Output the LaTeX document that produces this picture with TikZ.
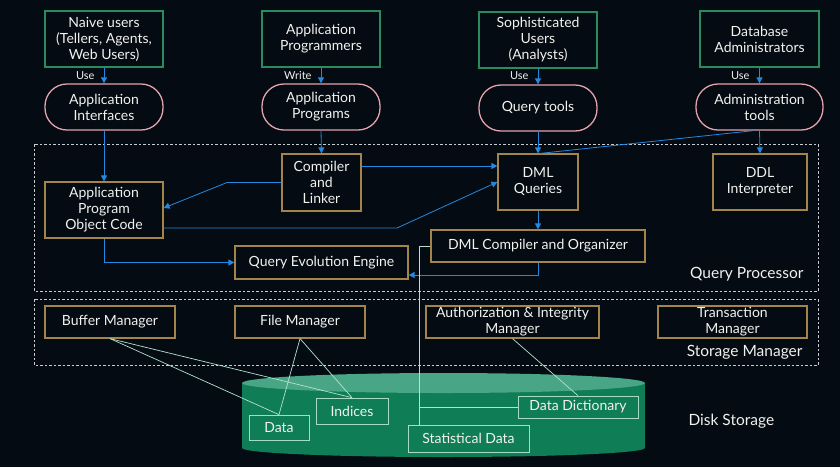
\documentclass[tikz,border=0pt]{standalone}
\usepackage{fontspec}
\setmainfont{Lato}
\usetikzlibrary{arrows.meta}
\definecolor{bg}{HTML}{040B12}
\definecolor{txt}{HTML}{F2F2EE}
\definecolor{gbord}{HTML}{2A8C5E}
\definecolor{pbord}{HTML}{E3A2AC}
\definecolor{obord}{HTML}{A3844A}
\definecolor{blu}{HTML}{2389E0}
\definecolor{lite}{HTML}{B5E2CF}
\definecolor{dash}{HTML}{C8CCD0}
\definecolor{cylbody}{HTML}{0F7D56}
\definecolor{cyltop}{HTML}{48A686}
\definecolor{dbord}{HTML}{A6DCC4}
\begin{document}
\begin{tikzpicture}[x=1pt,y=-1pt,
  every node/.style={text=txt, font=\fontsize{14}{16}\selectfont},
  sz/.style 2 args={minimum width=#1pt, minimum height=#2pt},
  gbox/.style={draw=gbord, line width=1.1pt, fill=bg, align=center, inner sep=0pt},
  pill/.style={draw=pbord, line width=1.3pt, fill=bg, align=center, inner sep=0pt, rounded corners=22pt},
  obox/.style={draw=obord, line width=1.2pt, fill=bg, align=center, inner sep=0pt},
  dbox/.style={draw=dbord, line width=0.7pt, align=center, inner sep=0pt},
  arr/.style={draw=blu, line width=0.8pt, -{Triangle[width=6pt,length=6pt]}},
  bline/.style={draw=blu, line width=0.8pt},
  lt/.style={draw=lite, line width=0.7pt},
  region/.style={draw=dash, line width=0.7pt, dash pattern=on 2.5pt off 2pt},
  small/.style={font=\fontsize{11}{12}\selectfont},
  title/.style={font=\fontsize{15.5}{17}\selectfont}]
\fill[bg] (0,0) rectangle (840,467);
\useasboundingbox (0,0) rectangle (840,467);

% regions
\draw[region] (34,144) rectangle (818,291);
\draw[region] (34,299) rectangle (818,365);
\node[title, anchor=east] (qplabel) at (807,274) {Query Processor};
\node[title, anchor=east] (smlabel) at (806,352) {Storage Manager};
\node[title, anchor=west] (dslabel) at (685,421) {Disk Storage};

% cylinder
\fill[cylbody] (242,383) rectangle (645,448);
\fill[cylbody] (443.5,448) ellipse [x radius=201.5, y radius=9];
\fill[cyltop] (443.5,383) ellipse [x radius=201.5, y radius=10];

% users
\node[gbox, sz={118}{56}] (naive) at (104,39) {Naive users\\(Tellers, Agents,\\Web Users)};
\node[gbox, sz={118}{56}] (aprog) at (321,39) {Application\\Programmers};
\node[gbox, sz={118}{56}] (soph) at (538,40) {Sophisticated\\Users\\(Analysts)};
\node[gbox, sz={119}{56}] (dba) at (759.5,39) {Database\\Administrators};

% pills
\node[pill, sz={118}{46}] (appint) at (104,107) {Application\\Interfaces};
\node[pill, sz={118}{46}] (apps) at (321,107) {Application\\Programs};
\node[pill, sz={118}{46}] (qtools) at (538,108) {Query tools};
\node[pill, sz={127}{46}] (admin) at (759.5,107) {Administration\\tools};

% use labels
\node[small, anchor=east] (u1) at (98,76) {Use};
\node[small, anchor=east] (u2) at (315,76) {Write};
\node[small, anchor=east] (u3) at (532,76) {Use};
\node[small, anchor=east] (u4) at (753,76) {Use};

% query processor boxes
\node[obox, sz={79}{57}] (comp) at (321.5,182.5) {Compiler\\and\\Linker};
\node[obox, sz={118}{56}] (obj) at (104,210) {Application\\Program\\Object Code};
\node[obox, sz={80}{56}] (dmlq) at (538,182) {DML\\Queries};
\node[obox, sz={94}{56}] (ddl) at (760,182) {DDL\\Interpreter};
\node[obox, sz={214}{32}] (dmlc) at (538,246) {DML Compiler and Organizer};
\node[obox, sz={173}{33}] (qee) at (321.5,262.5) {Query Evolution Engine};

% storage manager boxes
\node[obox, sz={130}{32}] (buf) at (110,322) {Buffer Manager};
\node[obox, sz={130}{32}] (file) at (300,322) {File Manager};
\node[obox, sz={173}{32}] (auth) at (512.5,322) {Authorization \& Integrity\\Manager};
\node[obox, sz={149}{32}] (trans) at (732.5,322) {Transaction\\Manager};

% disk boxes
\node[dbox, sz={60}{25}] (data) at (279,427.5) {Data};
\node[dbox, sz={72}{26}] (ind) at (352,411) {Indices};
\node[dbox, sz={121}{27}] (stat) at (468.5,438.5) {Statistical Data};
\node[dbox, sz={120}{22}] (dict) at (578,407) {Data Dictionary};

% blue connectors
\draw[arr] (naive.south) -- (appint.north);
\draw[arr] (aprog.south) -- (apps.north);
\draw[arr] (soph.south) -- (qtools.north);
\draw[arr] (dba.south) -- (admin.north);
\draw[arr] (appint.south) -- (obj.north);
\draw[arr] (apps.south) -- (comp.north);
\draw[arr] (qtools.south) -- (dmlq.north);
\draw[arr] (admin.south) -- (ddl.north);
\draw[bline] ([xshift=-6pt]admin.south) -- ([xshift=2pt]dmlq.north);
\coordinate (r1) at (430,166);
\draw[arr] (comp.east |- r1) -- (dmlq.west |- r1);
\coordinate (b1) at (227,182.5);
\draw[arr] (comp.west) -- (b1) -- ([yshift=2pt]obj.east);
\coordinate (b2) at (397,228);
\draw[arr] (obj.east |- b2) -- (b2) -- (dmlq.west);
\draw[arr] (obj.south) |- (qee.west);
\draw[arr] (dmlq.south) -- (dmlc.north);
\coordinate (r2) at (538,275);
\draw[arr] (dmlc.south) -- (r2) -- (qee.east |- r2);

% light connectors
\draw[lt] (buf.south) -- (data.north);
\draw[lt] (buf.south) -- (ind.north);
\draw[lt] (file.south) -- (data.north);
\draw[lt] (file.south) -- (ind.north);
\draw[lt] (auth.south) -- (dict.north);
\coordinate (s1) at (419,246);
\coordinate (s2) at (419,407);
\draw[lt] (dmlc.west) -- (s1) -- (s1 |- stat.north);
\draw[lt] (s2) -- (dict.west);
\end{tikzpicture}
\end{document}
